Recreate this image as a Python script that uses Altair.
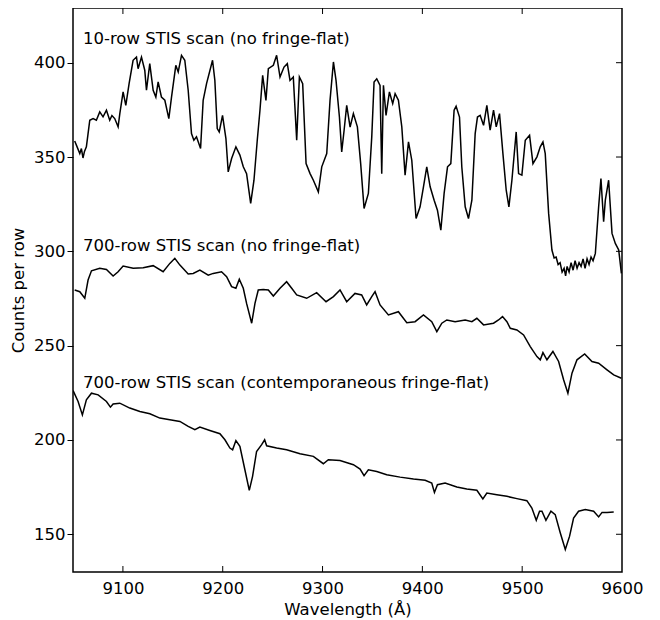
import altair as alt
import pandas as pd

# ---- 10-row STIS scan (no fringe-flat)
top_x = [9051.7, 9054, 9056.8, 9058.4, 9060, 9061.5, 9063.4, 9065, 9066.8, 9070.1, 9073.4, 9076.8, 9080.1, 9083.5,
         9086.8, 9089, 9091.8, 9095.2, 9096.9, 9100.2, 9102.9, 9106.2, 9110.2, 9113.6, 9115.2, 9118.6, 9121.9,
         9123.6, 9126.9, 9130.3, 9133, 9135.3, 9138.6, 9142, 9146, 9148.7, 9153, 9155.4, 9158.7, 9162, 9165.4,
         9168.7, 9171.1, 9173.7, 9177.8, 9180.4, 9183.8, 9189.8, 9192.1, 9194.5, 9196.5, 9199.8, 9203.2,
         9205.5, 9208.9,
         9213.2, 9217.2, 9220.6, 9223.9, 9228, 9231.3, 9234.6, 9237.3, 9240, 9243.3, 9245.7, 9250.7, 9254, 9257.4,
         9261.4, 9264.7, 9267.4, 9270.7, 9274.1, 9276.8, 9280.1, 9283.5, 9287.5, 9290.8, 9295.8, 9299.2, 9304.2,
         9307.5, 9310.9, 9313.5, 9316.9, 9319.2, 9321.6, 9324.2, 9327.6, 9330.9, 9334.9, 9338.2, 9341.6, 9345.9,
         9349.3, 9351.6, 9354.3, 9357.6, 9359.3, 9361, 9363.6, 9367, 9370.3, 9372.7, 9376, 9379.4, 9382.7, 9386.1,
         9389.4, 9393.7, 9397.7, 9401.1, 9404.4, 9407.8, 9411.8, 9415.1, 9418.5, 9421.8, 9425.2, 9428.5, 9431.8,
         9433.8, 9437.2, 9439.5, 9442.9, 9446.2, 9449.6, 9452.9, 9455.2, 9457.9, 9461.3, 9464.6, 9467.9, 9471.3,
         9474, 9477.3, 9480.7, 9484, 9486.7, 9489.7, 9494, 9496.4, 9499.7, 9503.1, 9507.4, 9510.8, 9514.8, 9518.1,
         9520.8, 9523.1, 9526.5, 9529.8, 9532, 9534, 9536, 9538, 9540, 9542, 9543.5, 9545, 9547, 9549, 9551, 9553,
         9555, 9557, 9559, 9561, 9563, 9565, 9567, 9569, 9571, 9573.3, 9576.6, 9578.9, 9581.6, 9583.3, 9586.6,
         9590, 9593.3, 9596.7, 9599.4]
top_y = [358.5, 355.5, 351.8, 354.5, 349.5, 353, 355.4, 362, 369.5, 370.4, 369.5, 373.9, 371.3, 374.8,
         369.5, 372, 370.4, 366, 373, 384.5, 377.4, 388.9, 401.3, 403, 396.8, 403, 396,
         385.4, 399.5, 385.4, 381.8, 389.8, 381.8, 380.1, 370.4, 381.8, 398.6, 395.1, 403.9, 401.3, 385.4,
         362.4, 358.9, 360.7, 354.5, 380.1, 388.9, 401.3, 390.7, 365.1, 363.3, 372.1, 359.8,
         342.1, 349.2,
         355.4, 351, 344.8, 341.2, 325.4, 337.7, 358.9, 374.8, 393.3, 380, 396.8, 398.6, 403.9, 392.4,
         397.7, 399.5, 390.6, 392.4, 358.9, 392.4, 388.9, 346.5, 341.2, 337.7, 331.5, 344.8, 351.8,
         380, 400.4, 390.6, 371.2, 352.7, 364.2, 377.4, 365.9, 373, 366, 346.5, 322.7, 330.7,
         360.7, 389.8, 391.5, 388, 341.2, 388, 372.1, 384.5, 378.3, 383.6, 380.1, 366, 340.4, 358,
         348.3, 317.4, 323.6, 334.2, 344.8, 334.2, 327.1, 321.8, 311.2, 330.7, 344.8, 346.5, 374.8,
         376.9, 371.2, 344.8, 323.6, 317.4, 327.1, 362.4, 371.2, 372.1, 366.8, 377.4, 364.2, 374.8,
         366, 373, 351.8, 332.4, 323.6, 337.7, 363.3, 341.2, 340.4, 358.9, 361.5, 346.5, 350.1, 355.4,
         358, 351.8, 320.1, 300.7, 296.5, 297, 293, 294, 289, 291, 287, 292, 289, 294, 290, 295,
         291, 294, 292, 296, 291, 296, 293, 297, 295, 298.9, 323.6, 338.6, 315.7, 327.1, 337.7,
         309.5, 304.2, 300.7, 288.3]

# ---- 700-row STIS scan (no fringe-flat)
mid_x = [9051.7, 9056.8, 9061.8, 9065.1, 9068.5, 9076.8, 9083.5, 9090.2, 9095.2, 9100.2, 9110.3, 9120.3, 9130.3,
         9140.3, 9147, 9152, 9157.1, 9165.4, 9170.4, 9177.1, 9185.5, 9190.5, 9198.8, 9203.9, 9208.9, 9213.2,
         9216.6, 9220.6, 9223.9, 9229, 9232.3, 9235.6, 9240.6, 9245.7, 9250.7, 9257.4, 9264, 9269.1, 9274.1,
         9284.1, 9294.1, 9303.5, 9310.9, 9317.5, 9324.2, 9332.5, 9339.2, 9344.2, 9349.3, 9352.6, 9357.6, 9366,
         9376, 9384.4, 9392.7, 9401.1, 9409.4, 9414.5, 9419.5, 9424.5, 9432.8, 9442.9, 9449.6, 9454.6, 9461.3,
         9471.3, 9476.3, 9480.3, 9484.7, 9488.1, 9494.7, 9501.4, 9508.1, 9514.8, 9518.1, 9520.8, 9524.8, 9530.8,
         9536.5, 9541.5, 9545.8, 9549.9, 9554.9, 9562.6, 9569.9, 9576.6, 9585, 9591.7, 9599.4]
mid_y = [279.5, 278.6, 275.1, 284.8, 289.7, 291, 290.4, 286.9, 289.2, 292.2, 291, 291.3, 292.4,
         289.2, 293.6, 296.3, 292.7, 288, 288.3, 290.1, 287.4, 288.3, 289.2, 286.6, 281.3, 280.4,
         285.2, 280.4, 272.4, 261.9, 272.4, 279.5, 279.8, 279.5, 276.3, 280.4, 283.9, 280.4, 276.9,
         275.1, 278.1, 273.3, 276, 279.5, 273.3, 277.7, 276.9, 271.6, 276, 278.6, 271.6, 266.3,
         268, 262.2, 262.7, 266.3, 262.7, 257.4, 261.9, 263.6, 262.7, 263.6, 262.7, 264.5, 261,
         261.9, 263.6, 265.4, 262.7, 259.2, 258.3, 255.7, 249.5, 244.2, 242.5, 246.3, 242.5, 246.9,
         241.6, 231.9, 224.8, 235.4, 242.5, 245.6, 241.6, 240.7, 237.2, 234.5, 232.7]

# ---- 700-row STIS scan (contemporaneous fringe-flat)
bot_x = [9050.1, 9055.1, 9059.4, 9063.4, 9068.5, 9075.2, 9083.5, 9087.5, 9090.2, 9096.9, 9106.9, 9117, 9127, 9137,
         9147, 9157.1, 9165.4, 9172.1, 9177.1, 9187.1, 9197.2, 9202.2, 9207.2, 9209.9, 9213.2, 9217.2, 9222.2,
         9226.6, 9229.9, 9233.9, 9239, 9242, 9244, 9254, 9264, 9277.4, 9290.8, 9300.8, 9305.8, 9317.5, 9330.9,
         9337.6, 9341.6, 9345.9, 9354.3, 9364.3, 9377.7, 9391.1, 9402.8, 9409.4, 9412.1, 9415.1, 9422.8, 9434.5,
         9444.5, 9454.6, 9460.6, 9464.6, 9474.6, 9484.7, 9494.7, 9504.7, 9509.7, 9514.1, 9517.4, 9519.8, 9523.8,
         9528.8, 9533.1, 9538.2, 9543.2, 9547.5, 9551.5, 9556.5, 9563.2, 9571.6, 9576.6, 9580, 9585, 9591.7]
bot_y = [226.2, 220.4, 213.3, 221.3, 224.8, 223.9, 220.4, 217.4, 219.1, 219.5, 216.9, 215.1, 213.9, 211.6,
         210.7, 209.8, 207.2, 205.4, 206.8, 205, 203.3, 200.1, 195.7, 194.8, 199.7, 196.6, 184.2,
         173.3, 180.7, 193.9, 197.5, 200.1, 196.9, 195.7, 194.8, 192.7, 191.3, 187.4, 189.5, 189.1, 186.9,
         184.6, 181.1, 184.2, 183.3, 181.6, 180.3, 179.3, 178.6, 177.2, 172.2, 176.3, 177.2, 175.1,
         174, 173.3, 168.7, 171.9, 171, 170.1, 168.9, 167.8, 163.9, 157.4, 162.2, 162.2, 157.4,
         162.2, 160.4, 150.7, 141.9, 149, 158.6, 162.2, 163.1, 162.2, 159.2, 161.6, 161.6, 161.8]

series_names = ["10-row", "700-row", "700-row-ff"]

label_text = ["10-row STIS scan (no fringe-flat)",
              "700-row STIS scan (no fringe-flat)",
              "700-row STIS scan (contemporaneous fringe-flat)"]
label_x = [9060, 9060, 9060]
label_y = [410, 300, 227.5]

x_ticks = [9100, 9200, 9300, 9400, 9500, 9600]
y_ticks = [150, 200, 250, 300, 350, 400]

W, H = 549, 564
FONT = "DejaVu Sans"
FS = 16.5

rows = []
for name, xs_, ys_ in zip(series_names, [top_x, mid_x, bot_x], [top_y, mid_y, bot_y]):
    for a, b in zip(xs_, ys_):
        rows.append({"series": name, "wavelength": a, "counts": b})
df = pd.DataFrame(rows)
labels = pd.DataFrame({"wavelength": label_x, "counts": label_y, "text": label_text})
xt = pd.DataFrame({"wavelength": x_ticks[:-1]})
yt = pd.DataFrame({"counts": y_ticks})

xsc = alt.Scale(domain=[9050, 9600], nice=False, zero=False)
ysc = alt.Scale(domain=[130, 429], nice=False, zero=False)

x_axis = alt.Axis(values=x_ticks, format="d", title="Wavelength (Å)", ticks=False,
                  labelPadding=8, labelFlush=False, labelOverlap=False, domain=False,
                  grid=False, titlePadding=5)
y_axis = alt.Axis(values=y_ticks, title="Counts per row", tickSize=6, labelPadding=2,
                  domain=False, grid=False, labelFlush=False, titlePadding=7)

X = alt.X("wavelength:Q", scale=xsc, axis=x_axis, title="Wavelength (Å)")
Y = alt.Y("counts:Q", scale=ysc, axis=y_axis, title="Counts per row")

lines = alt.Chart(df).mark_line(color="black", strokeWidth=1.5, clip=True).encode(
    x=X, y=Y, detail="series:N",
)

texts = alt.Chart(labels).mark_text(align="left", baseline="alphabetic", font=FONT,
                                     fontSize=FS, color="black").encode(
    x=X, y=Y, text="text:N",
)

bottom_ticks = alt.Chart(xt).mark_rule(color="black", strokeWidth=1).encode(
    x=X, y=alt.value(H), y2=alt.value(H - 6))
top_ticks = alt.Chart(xt).mark_rule(color="black", strokeWidth=1).encode(
    x=X, y=alt.value(0), y2=alt.value(6))
right_ticks = alt.Chart(yt).mark_rule(color="black", strokeWidth=1).encode(
    y=Y, x=alt.value(W - 6), x2=alt.value(W))

chart = alt.layer(lines, texts, bottom_ticks, top_ticks, right_ticks).properties(
    width=W, height=H,
    autosize=alt.AutoSizeParams(type="none"),
    padding={"left": 65, "top": 0, "right": 30, "bottom": 50},
).configure_view(stroke="black", strokeWidth=1.5).configure_axis(
    labelFont=FONT, labelFontSize=FS, titleFont=FONT, titleFontSize=FS,
    titleFontWeight="normal", labelColor="black", titleColor="black", tickColor="black",
)

chart.save("out.html", embed_options={"renderer": "svg", "actions": False})
